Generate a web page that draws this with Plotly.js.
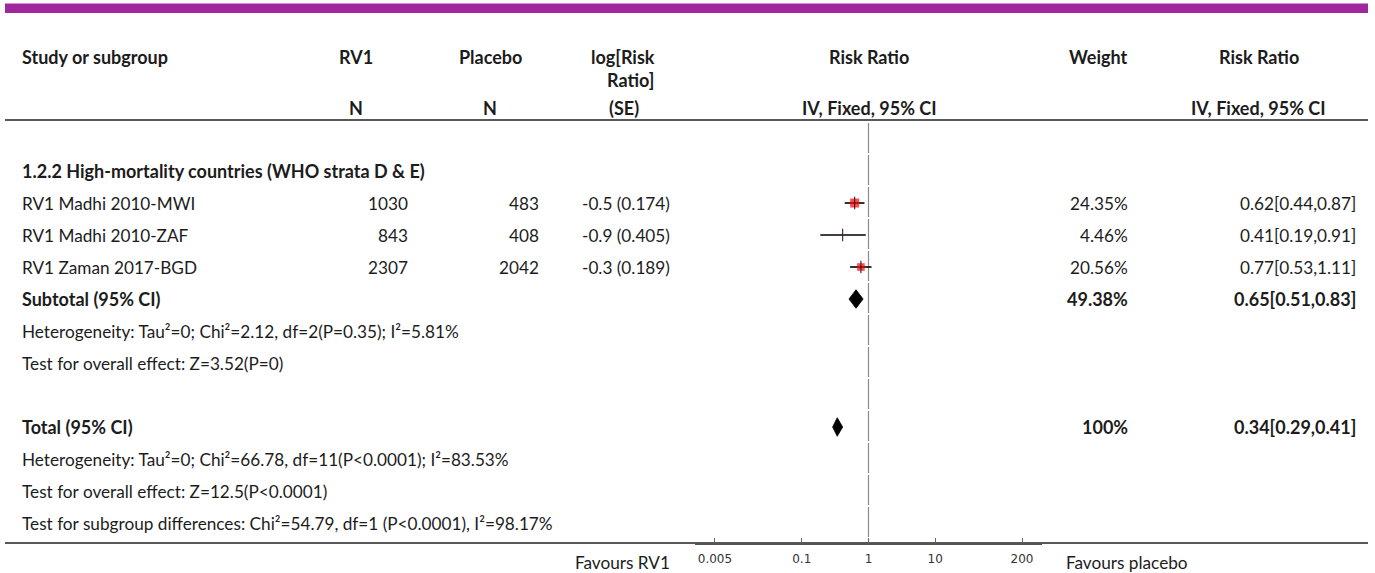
<!DOCTYPE html>
<html>
<head>
<meta charset="utf-8">
<script src="https://cdn.plot.ly/plotly-3.0.1.min.js"></script>
<style>
html,body{margin:0;padding:0;background:#fff;}
#chart{width:1375px;height:573px;}
</style>
</head>
<body>
<div id="chart"></div>
<script>
// ---------- data ----------
const groupTitle = "1.2.2 High-mortality countries (WHO strata D & E)";
const studies = ["RV1 Madhi 2010-MWI", "RV1 Madhi 2010-ZAF", "RV1 Zaman 2017-BGD"];
const nRV1 = [1030, 843, 2307];
const nPlacebo = [483, 408, 2042];
const logRR = [-0.5, -0.9, -0.3];
const seLogRR = [0.174, 0.405, 0.189];
const weights = [24.35, 4.46, 20.56];
const rr = [0.62, 0.41, 0.77];
const rrLow = [0.44, 0.19, 0.53];
const rrHigh = [0.87, 0.91, 1.11];

const subtotalRR = [0.65, 0.51, 0.83];   // estimate, low, high
const subtotalWeight = 49.38;
const totalRR = [0.34, 0.29, 0.41];
const totalWeight = 100;

const subtotalHet = "Heterogeneity: Tau²=0; Chi²=2.12, df=2(P=0.35); I²=5.81%";
const subtotalTest = "Test for overall effect: Z=3.52(P=0)";
const totalHet = "Heterogeneity: Tau²=0; Chi²=66.78, df=11(P<0.0001); I²=83.53%";
const totalTest = "Test for overall effect: Z=12.5(P<0.0001)";
const subgroupTest = "Test for subgroup differences: Chi²=54.79, df=1 (P<0.0001), I²=98.17%";

const tickVals = [0.005, 0.1, 1, 10, 200];
const tickText = ["0.005", "0.1", "1", "10", "200"];

// ---------- layout helpers ----------
const W = 1375, H = 573;
const FONT = "Lato, 'Noto Sans', sans-serif";
const TXT = "#1c1c1c";
const px = p => p / W;
const py = p => 1 - p / H;

// row indices
const rowGroup = 0;
const rowStudies = studies.map((_, i) => i + 1);
const rowSub = 4, rowSubHet = 5, rowSubTest = 6;
const rowTot = 8, rowTotHet = 9, rowTotTest = 10, rowSubgroup = 11;

const fmt = v => v.toFixed(2);
const ciText = a => fmt(a[0]) + "[" + fmt(a[1]) + "," + fmt(a[2]) + "]";

const ann = [];
function t(text, x, y, anchor, opts) {
  opts = opts || {};
  ann.push({
    text: opts.bold ? "<b>" + text + "</b>" : text,
    x: px(x), xref: "paper", xanchor: anchor,
    y: opts.paperY ? py(y) : y, yref: opts.paperY ? "paper" : "y",
    yanchor: "middle", showarrow: false, borderpad: 0,
    font: {family: FONT, size: opts.size || (opts.bold ? 18 : 17.2), color: opts.color || TXT},
    align: opts.align || (anchor === "right" ? "right" : anchor === "center" ? "center" : "left")
  });
}

// headers
t("Study or subgroup", 21, 57, "left", {bold: true, paperY: true});
t("RV1", 356, 57, "center", {bold: true, paperY: true});
t("Placebo", 490, 57, "center", {bold: true, paperY: true});
t("log[Risk<br>Ratio]", 656, 68.5, "right", {bold: true, paperY: true, align: "right"});
t("Risk Ratio", 869, 57, "center", {bold: true, paperY: true});
t("Weight", 1098, 57, "center", {bold: true, paperY: true});
t("Risk Ratio", 1259, 57, "center", {bold: true, paperY: true});
t("N", 356, 108, "center", {bold: true, paperY: true});
t("N", 490, 108, "center", {bold: true, paperY: true});
t("(SE)", 624, 108, "center", {bold: true, paperY: true});
t("IV, Fixed, 95% CI", 869, 108, "center", {bold: true, paperY: true});
t("IV, Fixed, 95% CI", 1258, 108, "center", {bold: true, paperY: true});

// group rows
t(groupTitle, 21, rowGroup, "left", {bold: true});
studies.forEach((s, i) => {
  const r = rowStudies[i];
  t(s, 21, r, "left");
  t(String(nRV1[i]), 409, r, "right");
  t(String(nPlacebo[i]), 540, r, "right");
  t(String(logRR[i]) + " (" + seLogRR[i].toFixed(3) + ")", 671, r, "right");
  t(weights[i].toFixed(2) + "%", 1129, r, "right");
  t(ciText([rr[i], rrLow[i], rrHigh[i]]), 1357, r, "right");
});
t("Subtotal (95% CI)", 21, rowSub, "left", {bold: true});
t(subtotalWeight.toFixed(2) + "%", 1129, rowSub, "right", {bold: true});
t(ciText(subtotalRR), 1357, rowSub, "right", {bold: true});
t(subtotalHet, 21, rowSubHet, "left");
t(subtotalTest, 21, rowSubTest, "left");
t("Total (95% CI)", 21, rowTot, "left", {bold: true});
t(String(totalWeight) + "%", 1129, rowTot, "right", {bold: true});
t(ciText(totalRR), 1357, rowTot, "right", {bold: true});
t(totalHet, 21, rowTotHet, "left");
t(totalTest, 21, rowTotTest, "left");
t(subgroupTest, 21, rowSubgroup, "left");
t("Favours RV1", 671, 562, "right", {paperY: true});
t("Favours placebo", 1065, 562, "left", {paperY: true});

// ---------- traces ----------
const traces = [];
// CI lines
const ciX = [], ciY = [];
studies.forEach((_, i) => {
  ciX.push(rrLow[i], rrHigh[i], null);
  ciY.push(rowStudies[i], rowStudies[i], null);
});
traces.push({x: ciX, y: ciY, mode: "lines", type: "scatter",
  line: {color: "#000", width: 1.6}, hoverinfo: "skip", showlegend: false});
// squares (size proportional to weight)
traces.push({x: rr, y: rowStudies, mode: "markers", type: "scatter",
  marker: {symbol: "square", color: "#ff0000", size: weights.map(w => Math.max(2, w * 0.37)),
           line: {width: 0}}, hoverinfo: "skip", showlegend: false});
// point ticks
traces.push({x: rr, y: rowStudies, mode: "markers", type: "scatter",
  marker: {symbol: "line-ns", size: 9, line: {color: "#222", width: 1.1}},
  hoverinfo: "skip", showlegend: false});
// diamonds
const dh = 0.29;
function diamond(a, row) {
  return {x: [a[1], a[0], a[2], a[0], a[1]], y: [row, row - dh, row, row + dh, row],
    mode: "lines", type: "scatter", fill: "toself", fillcolor: "#000",
    line: {color: "#000", width: 0.8}, hoverinfo: "skip", showlegend: false};
}
traces.push(diamond(subtotalRR, rowSub));
traces.push(diamond(totalRR, rowTot));

// ---------- shapes ----------
const shapes = [
  {type: "rect", xref: "paper", yref: "paper", x0: px(5), x1: px(1368), y0: py(3.5), y1: py(13),
   fillcolor: "#a0289c", line: {width: 0}},
  {type: "line", xref: "paper", yref: "paper", x0: px(5), x1: px(1368), y0: py(120), y1: py(120),
   line: {color: "#222", width: 1.6}},
  {type: "line", xref: "paper", yref: "paper", x0: px(5), x1: px(1368), y0: py(543), y1: py(543),
   line: {color: "#222", width: 1.6}, layer: "below"},
  {type: "line", xref: "x", yref: "paper", x0: 1, x1: 1, y0: py(123), y1: py(543),
   line: {color: "#8c8c8c", width: 1.2, dash: "30px,2px"}, layer: "below"}
];

// y axis: row 0 at 171px, 32px per row, domain 120px..543px
const rowPx = 32, y0px = 171, topPx = 120, botPx = 543;
const yTop = (topPx - y0px) / rowPx;
const yBot = yTop + (botPx - topPx) / rowPx;

const layout = {
  width: W, height: H,
  margin: {l: 0, r: 0, t: 0, b: 0, pad: 0},
  paper_bgcolor: "#fff", plot_bgcolor: "rgba(0,0,0,0)",
  showlegend: false,
  xaxis: {type: "log", domain: [px(695), px(1042)], range: [-2.6, 2.6],
    tickvals: tickVals, ticktext: tickText, ticks: "inside", ticklen: 5, tickwidth: 1,
    tickcolor: "#666", showline: true, linecolor: "#555", linewidth: 2,
    showgrid: false, zeroline: false, fixedrange: true, anchor: "y",
    tickfont: {family: "'DejaVu Sans', sans-serif", size: 12, color: "#333"}, ticklabelstandoff: 4},
  yaxis: {domain: [1 - botPx / H, 1 - topPx / H], range: [yBot, yTop],
    visible: false, showgrid: false, zeroline: false, fixedrange: true},
  annotations: ann,
  shapes: shapes
};

Plotly.newPlot("chart", traces, layout, {displayModeBar: false, staticPlot: true});
</script>
</body>
</html>
